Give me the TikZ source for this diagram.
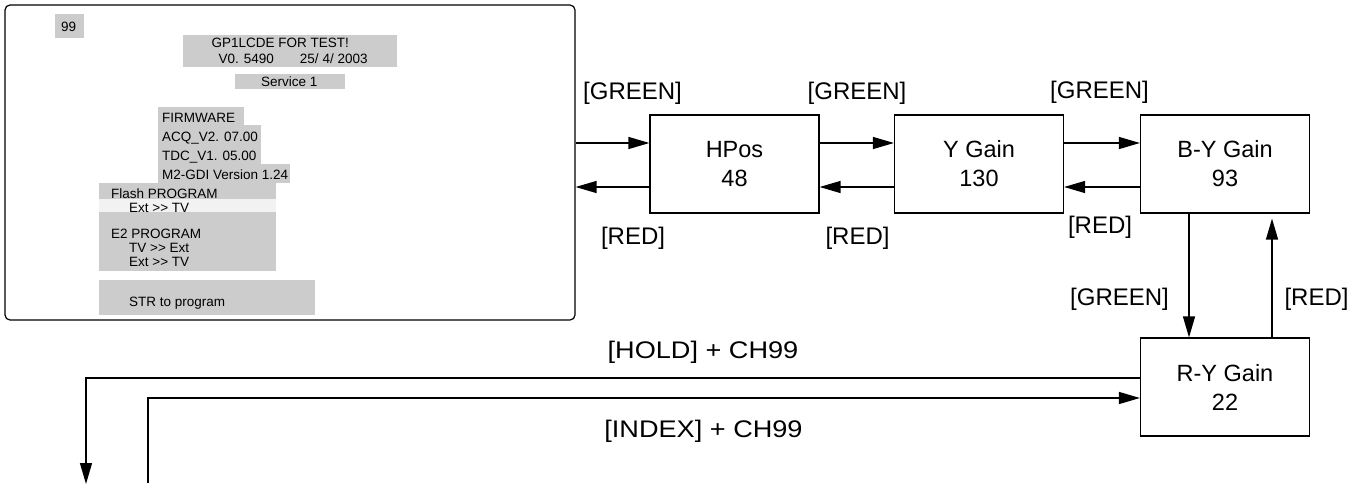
\documentclass[tikz,border=0pt]{standalone}
\usepackage{fontspec}
\setmainfont{Liberation Sans}
\usetikzlibrary{arrows.meta}
\definecolor{scrgray}{HTML}{CCCCCC}
\definecolor{scrlight}{HTML}{F2F2F2}
\begin{document}
\begin{tikzpicture}[x=1pt,y=-1pt,
  box/.style={draw, line width=1.2pt, minimum width=169pt, minimum height=98pt, align=center,
    font=\fontsize{23.5}{29}\selectfont, inner sep=0pt},
  lbl/.style={font=\fontsize{24}{28}\selectfont, inner sep=0pt},
  scr/.style={font=\fontsize{13.5}{16}\selectfont, inner sep=0pt, anchor=base west},
  arr/.style={line width=1.3pt, -{Triangle[length=21pt,width=12pt]}},
  ln/.style={line width=1.3pt}]
\useasboundingbox (0,0) rectangle (1367,489);
% screen
\node[draw, line width=1.2pt, rounded corners=5pt, minimum width=570pt, minimum height=315pt, inner sep=0pt] (screen) at (290,162.5) {};
\fill[scrgray] (55,14) rectangle (84,38);
\fill[scrgray] (183,35) rectangle (397,67);
\fill[scrgray] (235,74) rectangle (345,89);
\fill[scrgray] (158,107) rectangle (244,125);
\fill[scrgray] (158,125) rectangle (261,145);
\fill[scrgray] (158,145) rectangle (261,164);
\fill[scrgray] (158,164) rectangle (290,183);
\fill[scrgray] (99,183) rectangle (276,199);
\fill[scrlight] (99,199) rectangle (276,212);
\fill[scrgray] (99,212) rectangle (276,271);
\fill[scrgray] (99,280) rectangle (315,315);
\node[scr] (t99) at (61,32) {99};
\node[scr] (tgp) at (211.5,48) {GP1LCDE FOR TEST!};
\node[scr] (tver) at (218.5,64) {V0. 5490\hspace{26pt}25/ 4/ 2003};
\node[scr] (tsrv) at (261,87) {Service 1};
\node[scr] (tfw) at (162,123) {FIRMWARE};
\node[scr] (tacq) at (162,142) {ACQ\_V2. 07.00};
\node[scr] (ttdc) at (162,161) {TDC\_V1. 05.00};
\node[scr] (tm2) at (162,180) {M2-GDI Version 1.24};
\node[scr] (tfl) at (111,198) {Flash PROGRAM};
\node[scr] (tfl1) at (129,212) {Ext >{}> TV};
\node[scr] (te2) at (111,238) {E2 PROGRAM};
\node[scr] (te21) at (129,252) {TV >{}> Ext};
\node[scr] (te22) at (129,266) {Ext >{}> TV};
\node[scr] (tstr) at (129,306) {STR to program};
% boxes
\node[box] (hpos) at (734.5,164) {HPos\\48};
\node[box] (yg) at (979,164) {Y Gain\\130};
\node[box] (by) at (1225,164) {B-Y Gain\\93};
\node[box] (ry) at (1225,387) {R-Y Gain\\22};
% horizontal arrows
\draw[arr] ([yshift=21pt]screen.east |- hpos.west) -- ([yshift=21pt]hpos.west);
\draw[arr] ([yshift=-23pt]hpos.west) -- ([yshift=-23pt]screen.east |- hpos.west);
\draw[arr] ([yshift=21pt]hpos.east) -- ([yshift=21pt]yg.west);
\draw[arr] ([yshift=-23pt]yg.west) -- ([yshift=-23pt]hpos.east);
\draw[arr] ([yshift=21pt]yg.east) -- ([yshift=21pt]by.west);
\draw[arr] ([yshift=-23pt]by.west) -- ([yshift=-23pt]yg.east);
% vertical arrows
\draw[arr] ([xshift=-36pt]by.south) -- ([xshift=-36pt]ry.north);
\draw[arr, shorten >=5pt] ([xshift=47pt]ry.north) -- ([xshift=47pt]by.south);
% return lines
\coordinate (holdend) at (86,484);
\coordinate (idxstart) at (148,483);
\draw[arr] ([yshift=9pt]ry.west) -| (holdend);
\draw[arr] (idxstart) |- ([yshift=-11pt]ry.west);
% labels
\node[lbl] (g1) at (632.5,93) {[GREEN]};
\node[lbl] (g2) at (857,93) {[GREEN]};
\node[lbl] (g3) at (1099.5,92) {[GREEN]};
\node[lbl] (r1) at (633,238) {[RED]};
\node[lbl] (r2) at (857.5,238) {[RED]};
\node[lbl] (r3) at (1100,227) {[RED]};
\node[lbl] (g4) at (1119.5,299) {[GREEN]};
\node[lbl] (r4) at (1316.5,299) {[RED]};
\node[lbl] (hold) at (703,352.5) {\scalebox{1.13}[1]{[HOLD] + CH99}};
\node[lbl] (idx) at (703.5,431) {\scalebox{1.13}[1]{[INDEX] + CH99}};
\end{tikzpicture}
\end{document}
